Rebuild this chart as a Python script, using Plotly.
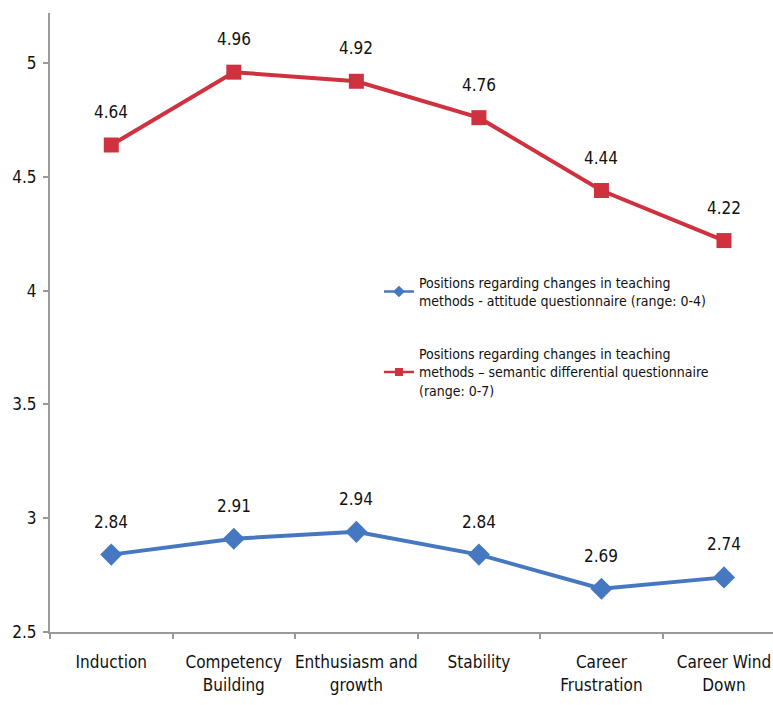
import plotly.graph_objects as go

categories = ["Induction", "Competency<br>Building", "Enthusiasm and<br>growth", "Stability",
              "Career<br>Frustration", "Career Wind<br>Down"]
attitude = [2.84, 2.91, 2.94, 2.84, 2.69, 2.74]
semantic = [4.64, 4.96, 4.92, 4.76, 4.44, 4.22]
y_ticks = [2.5, 3, 3.5, 4, 4.5, 5]

name_att = "Positions regarding changes in teaching<br>methods - attitude questionnaire (range: 0-4)"
name_sem = "Positions regarding changes in teaching<br>methods \u2013 semantic differential questionnaire<br>(range: 0-7)"

blue = "#4678C2"
red = "#D0313F"
font = "DejaVu Sans Condensed, DejaVu Sans, sans-serif"

fig = go.Figure()
fig.add_trace(go.Scatter(x=categories, y=attitude, mode="lines+markers", name=name_att, showlegend=False,
                         line=dict(color=blue, width=4),
                         marker=dict(symbol="diamond", size=17, color=blue)))
fig.add_trace(go.Scatter(x=categories, y=semantic, mode="lines+markers", name=name_sem, showlegend=False,
                         line=dict(color=red, width=4),
                         marker=dict(symbol="square", size=15, color=red)))
# legend entries with small symbols
fig.add_trace(go.Scatter(x=[None], y=[None], mode="lines+markers", name=name_att, legendgroup="a",
                         line=dict(color=blue, width=2.5),
                         marker=dict(symbol="diamond", size=9, color=blue)))
fig.add_trace(go.Scatter(x=[None], y=[None], mode="lines+markers", name=name_sem, legendgroup="b",
                         line=dict(color=red, width=2.5),
                         marker=dict(symbol="square", size=8, color=red)))

for series in (attitude, semantic):
    for c, v in zip(categories, series):
        fig.add_annotation(x=c, y=v, text=f"{v:.2f}", showarrow=False, yshift=33,
                           font=dict(size=17, color="#111", family=font))

fig.update_layout(
    width=773, height=705, margin=dict(l=50, r=0, t=13, b=73, autoexpand=False),
    paper_bgcolor="white", plot_bgcolor="white",
    font=dict(family=font, size=17, color="#111"),
    showlegend=True,
    legend=dict(x=0.455, y=0.59, xanchor="left", yanchor="top",
                font=dict(size=14, family=font, color="#111"),
                bgcolor="rgba(0,0,0,0)", tracegroupgap=32, itemwidth=30),
)
fig.update_xaxes(type="category", range=[-0.5, 5.4], tickangle=0, automargin=False,
                 showline=True, linecolor="#999", linewidth=2, showgrid=False, zeroline=False,
                 ticks="outside", tickson="boundaries", ticklen=5, tickcolor="#999", tickwidth=2,
                 ticklabelstandoff=14,
                 tickfont=dict(size=17, family=font, color="#111"))
fig.update_yaxes(range=[2.5, 5.22], tickmode="array", tickvals=y_ticks, automargin=False,
                 ticktext=[f"{t:g}" for t in y_ticks],
                 showline=True, linecolor="#999", linewidth=2, showgrid=False, zeroline=False,
                 ticks="outside", ticklen=5, tickcolor="#999", tickwidth=2,
                 ticklabelstandoff=3,
                 tickfont=dict(size=17, family=font, color="#111"))

fig.write_html("out.html")
